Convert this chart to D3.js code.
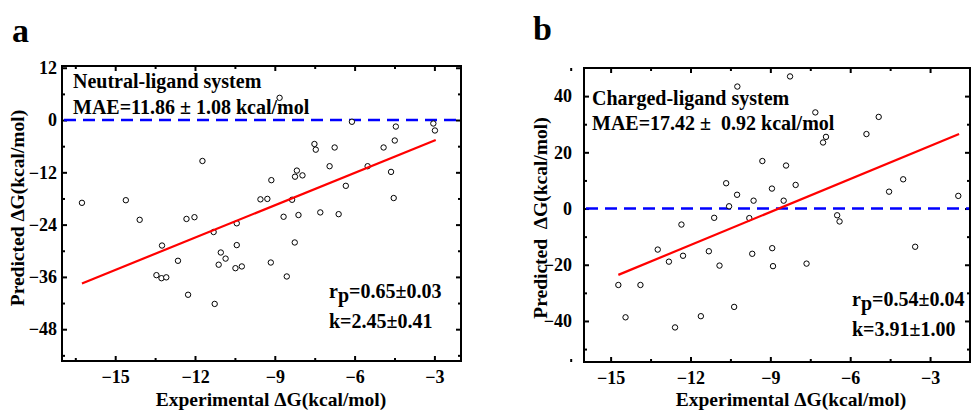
<!DOCTYPE html>
<html><head><meta charset="utf-8">
<script src="https://cdn.jsdelivr.net/npm/d3@7"></script>
<style>
body{margin:0;background:#fff;}
svg text{font-family:"Liberation Serif","Times New Roman",serif;font-weight:bold;fill:#000;}
</style></head><body>
<svg id="chart" width="972" height="412"></svg>
<script>
// ---------- data ----------
const neutralX = [-16.25,-14.6,-14.08,-13.24,-13.45,-13.26,-13.08,-12.64,-12.32,-12.02,-12.26,-11.72,-11.30,-11.26,-11.03,-11.11,-10.85,-10.43,-10.43,-10.48,-10.24,-9.54,-9.28,-9.13,-9.15,-8.82,-8.67,-8.55,-8.35,-8.25,-8.24,-8.17,-8.11,-7.96,-7.51,-7.46,-7.29,-6.94,-6.75,-6.60,-6.33,-6.10,-5.51,-4.91,-4.63,-4.53,-4.49,-4.45,-3.04,-2.98];
const neutralY = [-19.0,-18.4,-22.9,-28.8,-35.6,-36.3,-36.1,-32.3,-22.7,-22.3,-40.1,-9.4,-25.7,-42.2,-30.4,-33.2,-31.8,-23.7,-28.7,-34.0,-33.6,-18.2,-18.1,-13.8,-32.7,5.1,-22.2,-35.9,-18.3,-28.1,-13.0,-11.6,-21.8,-12.7,-5.5,-6.8,-21.2,-10.6,-6.3,-21.6,-15.1,-0.4,-10.6,-6.3,-11.9,-17.9,-4.7,-1.5,-0.8,-2.4];
const neutralFitX = [-16.25,-2.95];
const neutralFitY = [-37.5,-4.6];

const chargedX = [-14.71,-14.44,-13.88,-13.23,-12.81,-12.58,-12.34,-12.28,-11.61,-11.31,-11.11,-10.91,-10.66,-10.55,-10.36,-10.25,-10.24,-9.79,-9.68,-9.63,-9.30,-8.94,-8.93,-8.90,-8.50,-8.41,-8.26,-8.05,-7.64,-7.31,-7.02,-6.91,-6.49,-6.40,-5.39,-4.93,-4.54,-4.01,-3.56,-1.94];
const chargedY = [-27.2,-38.7,-27.2,-14.6,-18.9,-42.3,-5.7,-16.8,-38.3,-15.2,-3.3,-20.3,9.0,0.8,-35.0,4.9,43.4,-3.4,-16.1,2.8,16.9,7.1,-14.1,-20.5,2.8,15.3,47.0,8.4,-19.6,34.2,23.5,25.5,-2.4,-4.6,26.5,32.6,6.0,10.4,-13.6,4.5];
const chargedFitX = [-14.71,-1.91];
const chargedFitY = [-23.6,26.5];

const xMajorTicks = [-15,-12,-9,-6,-3];
const xMinorTicks = [-16.5,-13.5,-10.5,-7.5,-4.5];
const neutralYMajor = [12,0,-12,-24,-36,-48];
const neutralYMinor = [6,-6,-18,-30,-42,-54];
const chargedYMajor = [40,20,0,-20,-40];
const chargedYMinor = [30,10,-10,-30,-50];

const panelLetters = ["a","b"];
const systemTitles = ["Neutral-ligand system","Charged-ligand system"];
const maeTexts = ["MAE=11.86 \u00b1 1.08 kcal/mol","MAE=17.42 \u00b1  0.92 kcal/mol"];
const rpTexts = ["=0.65\u00b10.03","=0.54\u00b10.04"];
const kTexts = ["k=2.45\u00b10.41","k=3.91\u00b11.00"];
const xTitles = ["Experimental \u0394G(kcal/mol)","Experimental \u0394G(kcal/mol)"];
const yTitles = ["Predicted \u0394G(kcal/mol)","Predicted  \u0394G(kcal/mol)"];

// ---------- layout ----------
const svg = d3.select("#chart");
const panels = [
  {left:62, right:461, top:66, bottom:361, xd:[-17,-2], yd:[-55.3,12.4],
   xs:neutralX, ys:neutralY, fx:neutralFitX, fy:neutralFitY, yMaj:neutralYMajor, yMin:neutralYMinor,
   ylPad:5, letter:[12,42], tx:73, t1:88, t2:114, rpx:329, rpy:298, ky:328, xtc:271, ytx:24, ytc:208},
  {left:584, right:970, top:68, bottom:362, xd:[-16,-1.5], yd:[-54.6,50],
   xs:chargedX, ys:chargedY, fx:chargedFitX, fy:chargedFitY, yMaj:chargedYMajor, yMin:chargedYMinor,
   ylPad:12, letter:[533,40], tx:592, t1:105, t2:130, rpx:852, rpy:306, ky:336, xtc:791, ytx:547, ytc:218}
];

panels.forEach((p, i) => {
  const g = svg.append("g");
  const x = d3.scaleLinear().domain(p.xd).range([p.left, p.right]);
  const y = d3.scaleLinear().domain(p.yd).range([p.bottom, p.top]);

  const styleAxis = sel => { sel.select(".domain").remove(); sel.selectAll("line").attr("stroke","#000").attr("stroke-width",2); };
  g.append("g").attr("transform",`translate(0,${p.bottom})`)
    .call(d3.axisBottom(x).tickValues(xMajorTicks).tickSize(-5).tickPadding(9).tickFormat(d3.format("d")))
    .call(styleAxis).selectAll("text").style("font-size","18px").style("font-family","Liberation Serif").style("font-weight","bold");
  g.append("g").attr("transform",`translate(0,${p.bottom})`)
    .call(d3.axisBottom(x).tickValues(xMinorTicks).tickSize(-3).tickFormat("")).call(styleAxis);
  g.append("g").attr("transform",`translate(0,${p.top})`)
    .call(d3.axisTop(x).tickValues(xMajorTicks).tickSize(-5).tickFormat("")).call(styleAxis);
  g.append("g").attr("transform",`translate(0,${p.top})`)
    .call(d3.axisTop(x).tickValues(xMinorTicks).tickSize(-3).tickFormat("")).call(styleAxis);
  g.append("g").attr("transform",`translate(${p.left},0)`)
    .call(d3.axisLeft(y).tickValues(p.yMaj).tickSize(-5).tickPadding(p.ylPad).tickFormat(d3.format("d")))
    .call(styleAxis).selectAll("text").style("font-size","18px").style("font-family","Liberation Serif").style("font-weight","bold");
  g.append("g").attr("transform",`translate(${p.left},0)`)
    .call(d3.axisLeft(y).tickValues(p.yMin).tickSize(-3).tickFormat("")).call(styleAxis);
  g.append("g").attr("transform",`translate(${p.right},0)`)
    .call(d3.axisRight(y).tickValues(p.yMaj).tickSize(-5).tickFormat("")).call(styleAxis);
  g.append("g").attr("transform",`translate(${p.right},0)`)
    .call(d3.axisRight(y).tickValues(p.yMin).tickSize(-3).tickFormat("")).call(styleAxis);

  g.append("rect").attr("x",p.left).attr("y",p.top).attr("width",p.right-p.left).attr("height",p.bottom-p.top)
    .attr("fill","none").attr("stroke","#000").attr("stroke-width",2);

  g.append("line").attr("x1",p.left+2).attr("x2",p.right-1).attr("y1",y(0)).attr("y2",y(0))
    .attr("stroke","#0000ff").attr("stroke-width",2.5).attr("stroke-dasharray","12,7");

  g.selectAll("circle.pt").data(p.xs.map((v,k)=>[v,p.ys[k]])).join("circle")
    .attr("class","pt").attr("cx",d=>x(d[0])).attr("cy",d=>y(d[1])).attr("r",2.7)
    .attr("fill","#fff").attr("stroke","#000").attr("stroke-width",1);

  g.append("path").datum(p.fx.map((v,k)=>[v,p.fy[k]]))
    .attr("d", d3.line().x(d=>x(d[0])).y(d=>y(d[1])))
    .attr("stroke","#ff0000").attr("stroke-width",2.2).attr("fill","none");

  g.append("text").attr("x",p.letter[0]).attr("y",p.letter[1]).style("font-size","34px").text(panelLetters[i]);
  g.append("text").attr("x",p.tx).attr("y",p.t1).style("font-size","20px").text(systemTitles[i]);
  g.append("text").attr("x",p.tx).attr("y",p.t2).style("font-size","20px").style("white-space","pre").text(maeTexts[i]);
  const rp = g.append("text").attr("x",p.rpx).attr("y",p.rpy).style("font-size","20px");
  rp.append("tspan").text("r");
  rp.append("tspan").attr("dy",4).text("p");
  rp.append("tspan").attr("dy",-4).text(rpTexts[i]);
  g.append("text").attr("x",p.rpx).attr("y",p.ky).style("font-size","20px").text(kTexts[i]);
  g.append("text").attr("x",p.xtc).attr("y",406).attr("text-anchor","middle").style("font-size","19.5px").text(xTitles[i]);
  g.append("text").attr("transform",`translate(${p.ytx},${p.ytc}) rotate(-90)`).attr("text-anchor","middle")
    .style("font-size","19.5px").style("white-space","pre").text(yTitles[i]);
});
</script>
</body></html>
